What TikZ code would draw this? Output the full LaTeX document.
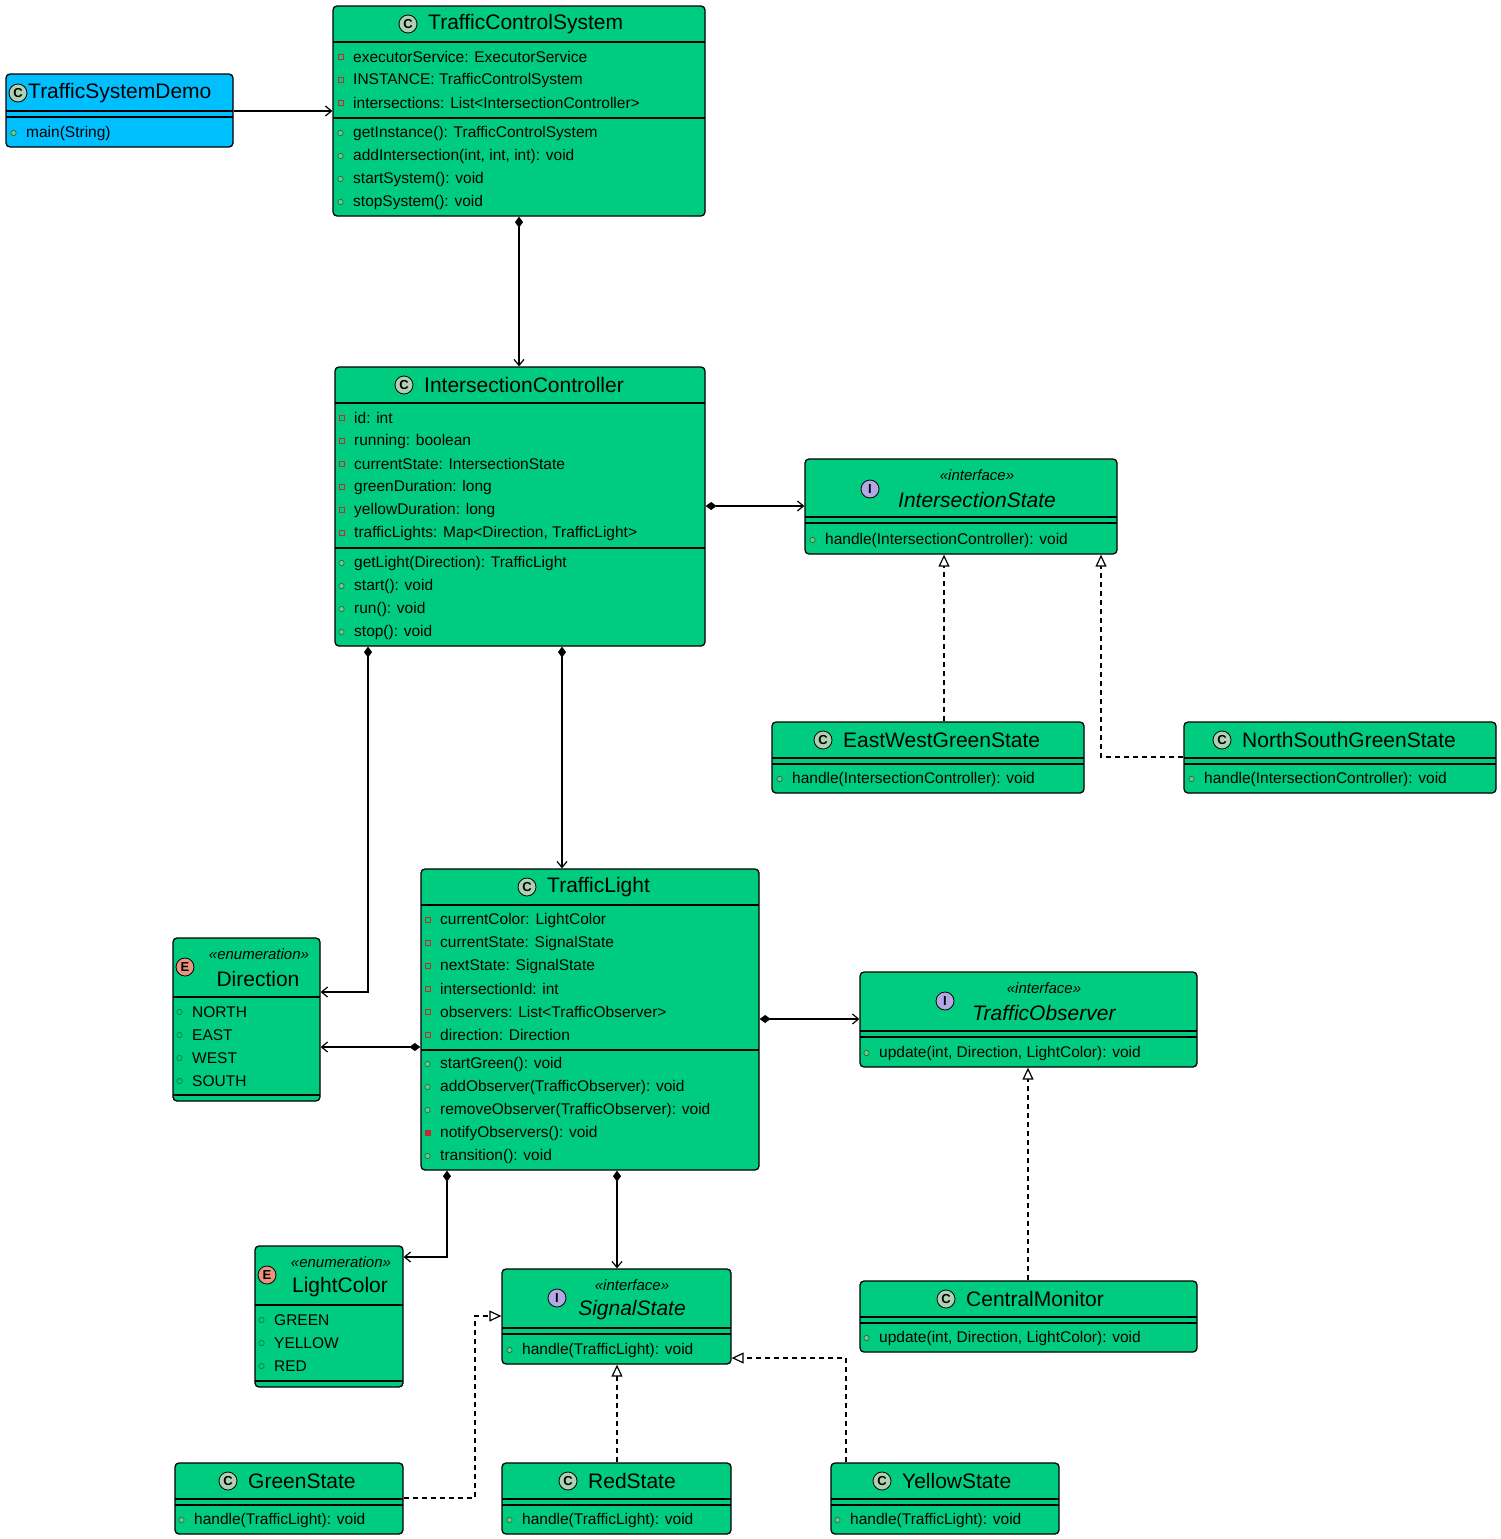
\documentclass[tikz,border=0pt]{standalone}
\usepackage{fontspec}
\setmainfont{Liberation Sans}
\usetikzlibrary{arrows.meta,fit}
\definecolor{grn}{HTML}{00CC80}
\definecolor{blu}{HTML}{00BFFF}
\definecolor{cic}{HTML}{ADD1B2}
\definecolor{eic}{HTML}{EB937F}
\definecolor{iic}{HTML}{B4A7E5}
\definecolor{privc}{HTML}{C82930}
\definecolor{pubc}{HTML}{038048}
\definecolor{pubf}{HTML}{84BE84}
\newcounter{tc}
\newcommand\umlbox[6]{\node[box,fill=#6,fit={(#2,#3) (#4,#5)}] (#1) {};}
\newcommand\hsep[3]{\draw[line width=1.3pt] (#1,#3) -- (#2,#3);}
\newcommand\mem[4]{%
  \ifx#1p\draw[privc,line width=0.8pt] ({#2-15},{#3-3}) rectangle ++(5,5);\fi
  \ifx#1P\draw[privc,fill=privc,line width=0.8pt] ({#2-15},{#3-3}) rectangle ++(5,5);\fi
  \ifx#1u\draw[pubc,fill=pubf,line width=0.7pt] ({#2-12.5},{#3}) circle (2.7);\fi
  \ifx#1e\draw[pubc,line width=0.7pt] ({#2-12.5},{#3}) circle (2.7);\fi
  \stepcounter{tc}\node[txt] (m\arabic{tc}) at (#2,#3) {#4};}
\newcommand\icon[4]{\stepcounter{tc}\node[ico,fill=#3] (i\arabic{tc}) at (#1,#2) {#4};}
\newcommand\ttl[4][west]{\stepcounter{tc}\node[ttxt,anchor=#1] (t\arabic{tc}) at (#2,#3) {#4};}
\newcommand\stereo[3]{\stepcounter{tc}\node[stx] (s\arabic{tc}) at (#1,#2) {#3};}
\begin{document}
\begin{tikzpicture}[x=1pt,y=-1pt,
  box/.style={draw=black,line width=1.3pt,rounded corners=4pt,inner sep=0pt},
  txt/.style={anchor=west,inner sep=0pt,font=\fontsize{15.5}{18}\selectfont},
  ttxt/.style={inner sep=0pt,font=\fontsize{21}{24}\selectfont},
  stx/.style={inner sep=0pt,font=\fontsize{15}{18}\selectfont\itshape},
  ico/.style={circle,draw=black,line width=0.8pt,minimum size=18pt,inner sep=0pt,font=\fontsize{13}{13}\selectfont\bfseries},
  comp/.style={line width=1.2pt,{Diamond[length=11pt,width=8pt]}-{Straight Barb[length=6pt,width=10pt]}},
  assoc/.style={line width=1.2pt,-{Straight Barb[length=6pt,width=10pt]}},
  real/.style={line width=1.2pt,dashed,dash pattern=on 5pt off 4pt,-{Triangle[open,fill=white,length=12pt,width=11pt]}}]
\useasboundingbox (0,0) rectangle (1501,1539);
% TrafficSystemDemo
\umlbox{tsd}{6}{74}{233}{147}{blu}
\icon{18}{93}{cic}{C}\ttl{28}{93}{TrafficSystemDemo}
\hsep{6}{233}{111}\hsep{6}{233}{117}
\mem{u}{26}{133}{main(String)}
% TrafficControlSystem
\umlbox{tcs}{333}{6}{705}{216}{grn}
\icon{408}{24}{cic}{C}\ttl{428}{24}{TrafficControlSystem}
\hsep{333}{705}{42}
\mem{p}{353}{57}{executorService: ExecutorService}
\mem{p}{353}{80}{INSTANCE: TrafficControlSystem}
\mem{p}{353}{103}{intersections: List<IntersectionController>}
\hsep{333}{705}{118}
\mem{u}{353}{133}{getInstance(): TrafficControlSystem}
\mem{u}{353}{156}{addIntersection(int, int, int): void}
\mem{u}{353}{179}{startSystem(): void}
\mem{u}{353}{202}{stopSystem(): void}
% IntersectionController
\umlbox{ic}{335}{367}{705}{646}{grn}
\icon{404}{385}{cic}{C}\ttl{424}{385}{IntersectionController}
\hsep{335}{705}{403}
\mem{p}{354}{418}{id: int}
\mem{p}{354}{441}{running: boolean}
\mem{p}{354}{464}{currentState: IntersectionState}
\mem{p}{354}{487}{greenDuration: long}
\mem{p}{354}{510}{yellowDuration: long}
\mem{p}{354}{533}{trafficLights: Map<Direction, TrafficLight>}
\hsep{335}{705}{548}
\mem{u}{354}{563}{getLight(Direction): TrafficLight}
\mem{u}{354}{586}{start(): void}
\mem{u}{354}{609}{run(): void}
\mem{u}{354}{632}{stop(): void}
% IntersectionState
\umlbox{is}{805}{459}{1117}{554}{grn}
\icon{870}{489}{iic}{I}
\stereo{977}{475}{«interface»}
\ttl[center]{977}{500}{\itshape IntersectionState}
\hsep{805}{1117}{517}\hsep{805}{1117}{523}
\mem{u}{825}{540}{handle(IntersectionController): void}
% EastWestGreenState
\umlbox{ew}{772}{722}{1084}{793}{grn}
\icon{823}{740}{cic}{C}\ttl{843}{740}{EastWestGreenState}
\hsep{772}{1084}{758}\hsep{772}{1084}{764}
\mem{u}{792}{779}{handle(IntersectionController): void}
% NorthSouthGreenState
\umlbox{ns}{1184}{722}{1496}{793}{grn}
\icon{1222}{740}{cic}{C}\ttl{1242}{740}{NorthSouthGreenState}
\hsep{1184}{1496}{758}\hsep{1184}{1496}{764}
\mem{u}{1204}{779}{handle(IntersectionController): void}
% TrafficLight
\umlbox{tl}{421}{869}{759}{1170}{grn}
\icon{527}{887}{cic}{C}\ttl{547}{887}{TrafficLight}
\hsep{421}{759}{905}
\mem{p}{440}{920}{currentColor: LightColor}
\mem{p}{440}{943}{currentState: SignalState}
\mem{p}{440}{966}{nextState: SignalState}
\mem{p}{440}{989}{intersectionId: int}
\mem{p}{440}{1012}{observers: List<TrafficObserver>}
\mem{p}{440}{1035}{direction: Direction}
\hsep{421}{759}{1050}
\mem{u}{440}{1064}{startGreen(): void}
\mem{u}{440}{1087}{addObserver(TrafficObserver): void}
\mem{u}{440}{1110}{removeObserver(TrafficObserver): void}
\mem{P}{440}{1133}{notifyObservers(): void}
\mem{u}{440}{1156}{transition(): void}
% Direction
\umlbox{dir}{173}{938}{320}{1101}{grn}
\icon{185}{967}{eic}{E}
\stereo{259}{954}{«enumeration»}
\ttl[center]{258}{979}{Direction}
\hsep{173}{320}{997}
\mem{e}{192}{1012}{NORTH}
\mem{e}{192}{1035}{EAST}
\mem{e}{192}{1058}{WEST}
\mem{e}{192}{1081}{SOUTH}
\hsep{173}{320}{1095}
% TrafficObserver
\umlbox{to}{860}{972}{1197}{1067}{grn}
\icon{945}{1001}{iic}{I}
\stereo{1044}{988}{«interface»}
\ttl[center]{1044}{1013}{\itshape TrafficObserver}
\hsep{860}{1197}{1031}\hsep{860}{1197}{1037}
\mem{u}{879}{1053}{update(int, Direction, LightColor): void}
% LightColor
\umlbox{lc}{255}{1246}{403}{1387}{grn}
\icon{267}{1275}{eic}{E}
\stereo{341}{1262}{«enumeration»}
\ttl[center]{340}{1287}{LightColor}
\hsep{255}{403}{1305}
\mem{e}{274}{1320}{GREEN}
\mem{e}{274}{1343}{YELLOW}
\mem{e}{274}{1366}{RED}
\hsep{255}{403}{1381}
% SignalState
\umlbox{ss}{502}{1269}{731}{1364}{grn}
\icon{557}{1298}{iic}{I}
\stereo{632}{1285}{«interface»}
\ttl[center]{632}{1310}{\itshape SignalState}
\hsep{502}{731}{1328}\hsep{502}{731}{1334}
\mem{u}{522}{1350}{handle(TrafficLight): void}
% CentralMonitor
\umlbox{cm}{860}{1281}{1197}{1352}{grn}
\icon{946}{1299}{cic}{C}\ttl{966}{1299}{CentralMonitor}
\hsep{860}{1197}{1317}\hsep{860}{1197}{1323}
\mem{u}{879}{1338}{update(int, Direction, LightColor): void}
% GreenState
\umlbox{gs}{175}{1463}{403}{1534}{grn}
\icon{228}{1481}{cic}{C}\ttl{248}{1481}{GreenState}
\hsep{175}{403}{1499}\hsep{175}{403}{1505}
\mem{u}{194}{1520}{handle(TrafficLight): void}
% RedState
\umlbox{rs}{502}{1463}{731}{1534}{grn}
\icon{568}{1481}{cic}{C}\ttl{588}{1481}{RedState}
\hsep{502}{731}{1499}\hsep{502}{731}{1505}
\mem{u}{522}{1520}{handle(TrafficLight): void}
% YellowState
\umlbox{ys}{831}{1463}{1059}{1534}{grn}
\icon{882}{1481}{cic}{C}\ttl{902}{1481}{YellowState}
\hsep{831}{1059}{1499}\hsep{831}{1059}{1505}
\mem{u}{850}{1520}{handle(TrafficLight): void}
% connectors
\draw[assoc] (tsd.east |- 0,111) -- (tcs.west |- 0,111);
\draw[comp] (tcs.south -| 519,0) -- (ic.north -| 519,0);
\draw[comp] (ic.east |- 0,506) -- (is.west |- 0,506);
\draw[real] (ew.north -| 944,0) -- (is.south -| 944,0);
\draw[real] (ns.west |- 0,757) -| (is.south -| 1101,0);
\draw[comp] (ic.south -| 368,0) |- (dir.east |- 0,992);
\draw[comp] (ic.south -| 562,0) -- (tl.north -| 562,0);
\draw[comp] (tl.west |- 0,1047) -- (dir.east |- 0,1047);
\draw[comp] (tl.east |- 0,1019) -- (to.west |- 0,1019);
\draw[real] (cm.north -| 1028,0) -- (to.south -| 1028,0);
\draw[comp] (tl.south -| 447,0) |- (lc.east |- 0,1257);
\draw[comp] (tl.south -| 617,0) -- (ss.north -| 617,0);
\draw[real] (gs.east |- 0,1498) -- (475,1498) |- (ss.west |- 0,1316);
\draw[real] (rs.north -| 617,0) -- (ss.south -| 617,0);
\draw[real] (ys.north -| 846,0) |- (ss.east |- 0,1358);
\end{tikzpicture}
\end{document}
